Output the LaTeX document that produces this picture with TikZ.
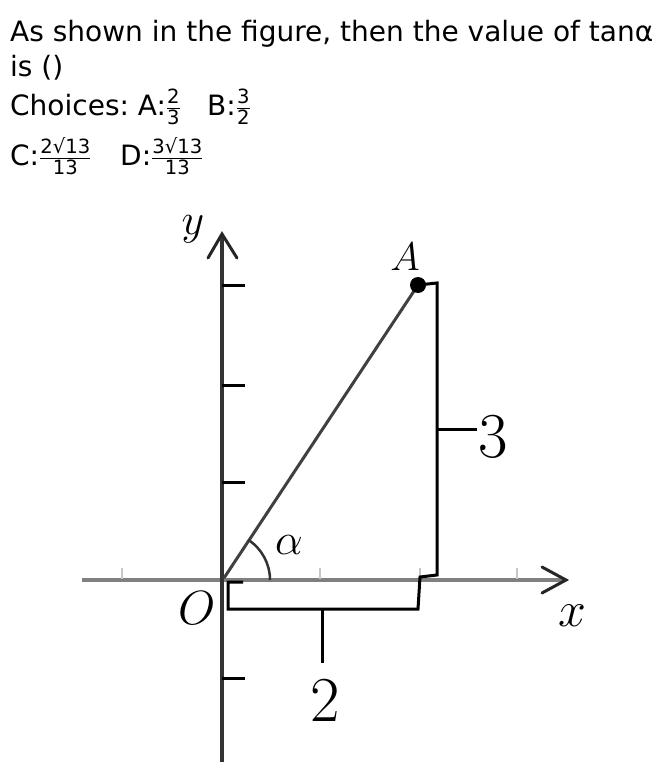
\documentclass[tikz,border=0pt]{standalone}
\usepackage{fix-cm}
\usepackage{amsmath}
\usepackage{fontspec}
\setmainfont{DejaVu Sans}
\frenchspacing
\newcommand{\qfrac}[2]{\ensuremath{\tfrac{\text{#1}}{\text{#2}}}}
\begin{document}
\begin{tikzpicture}[x=1pt,y=-1pt,
  qtext/.style={anchor=base west,inner sep=0pt,font=\fontsize{28}{33}\selectfont},
  lbl/.style={inner sep=0pt},
  axisx/.style={draw=black!50,line width=4pt},
  axisy/.style={draw=black!80,line width=3.5pt},
  barb/.style={draw=black!85,line width=3pt,line cap=round},
  tickx/.style={draw=black!22,line width=2.5pt},
  ticky/.style={draw=black,line width=3pt},
  brk/.style={draw=black,line width=3pt,line join=miter}]
\useasboundingbox (0,0) rectangle (657,776);
% question text
\node[qtext] (t1) at (10,42) {As shown in the figure, then the value of tanα};
\node[qtext] (t2) at (10,77) {is ()};
\node[qtext] (t3) at (10,115) {Choices: A:\qfrac{2}{3}};
\node[qtext] (t4) at (207,115) {B:\qfrac{3}{2}};
\node[qtext] (t5) at (10,165) {C:\qfrac{2√13}{13}};
\node[qtext] (t6) at (120,165) {D:\qfrac{3√13}{13}};
% coordinates
\coordinate (O) at (222,580);
\coordinate (xl) at (82,580);
\coordinate (xr) at (566,580);
\coordinate (yb) at (222,762);
\coordinate (yt) at (222,234);
% x axis
\draw[axisx] (xl) -- (564,580);
\foreach \t in {122,222,320,420,517} \draw[tickx] (\t,568) -- (\t,579);
\draw[barb] (542,567) -- (xr) -- (542,593);
% y axis
\draw[axisy] (yb) -- (yt);
\draw[barb] (208,258) -- (yt) -- (237,258);
\foreach \t in {285,385,482,678} \draw[ticky] (222,\t) -- (245,\t);
% segment OA
\coordinate (A) at (418,285);
\draw[draw=black!75,line width=3pt] (224,578) -- (A);
\fill (A) circle (8pt);
% angle arc
\draw[draw=black!80,line width=2.5pt] (270,580) arc[start angle=0,end angle=56.6,radius=48pt];
% brackets
\draw[brk] (A) -- (437,283) -- (437,575) -- (420,577) -- (418,609) -- (228,609) -- (228,582) -- (243,582);
\draw[brk] (322,609) -- (322,663);
\draw[brk] (437,429) -- (477,429);
% labels
\node[lbl] (ly) at (193,229) {\fontsize{44}{44}\selectfont$y$};
\node[lbl] (lA) at (405,257) {\fontsize{40}{40}\selectfont$A$};
\node[lbl] (lO) at (197,608) {\fontsize{48}{48}\selectfont$O$};
\node[lbl] (lx) at (572,616) {\fontsize{50}{50}\selectfont$x$};
\node[lbl] (la) at (289,545) {\fontsize{44}{44}\selectfont$\alpha$};
\node[lbl] (l3) at (493,437) {\fontsize{64}{64}\selectfont$3$};
\node[lbl] (l2) at (325,701) {\fontsize{64}{64}\selectfont$2$};
\end{tikzpicture}
\end{document}
